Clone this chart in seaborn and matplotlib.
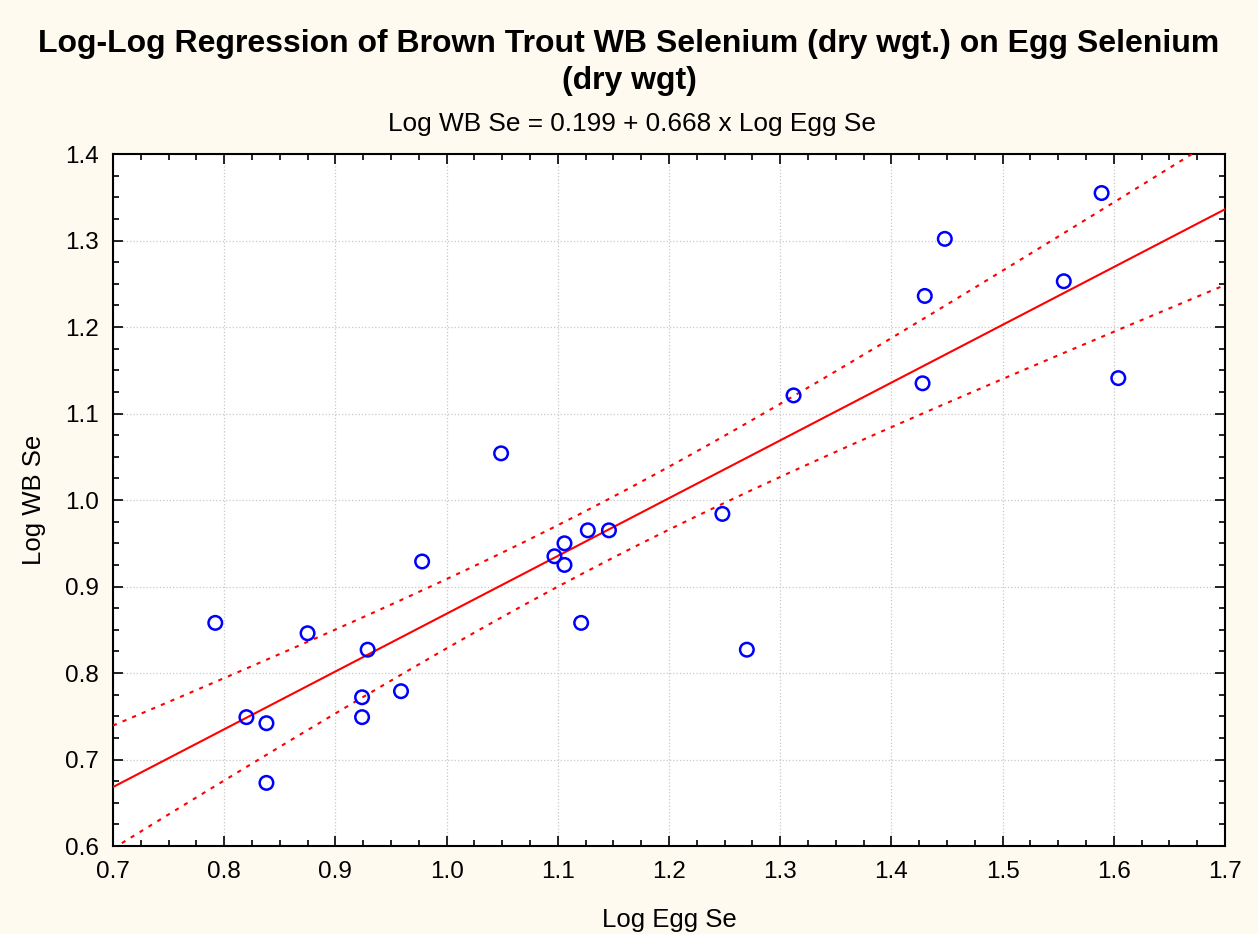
import matplotlib
matplotlib.use("Agg")
import matplotlib.pyplot as plt
import numpy as np
import pandas as pd
import seaborn as sns
from matplotlib.ticker import MultipleLocator

# log egg Se vs log whole-body Se
log_egg = [0.792, 0.820, 0.838, 0.838, 0.875, 0.924, 0.924, 0.929, 0.959, 0.978,
           1.049, 1.097, 1.106, 1.106, 1.121, 1.127, 1.146, 1.248, 1.270, 1.312,
           1.428, 1.430, 1.448, 1.555, 1.589, 1.604]
log_wb = [0.858, 0.749, 0.742, 0.673, 0.846, 0.772, 0.749, 0.827, 0.779, 0.929,
          1.054, 0.935, 0.950, 0.925, 0.858, 0.965, 0.965, 0.984, 0.827, 1.121,
          1.135, 1.236, 1.302, 1.253, 1.355, 1.141]

title = "Log-Log Regression of Brown Trout WB Selenium (dry wgt.) on Egg Selenium\n(dry wgt)"
subtitle = "Log WB Se = 0.199 + 0.668 x Log Egg Se"

df = pd.DataFrame({"egg": log_egg, "wb": log_wb})

sns.set_style("ticks")
plt.rcParams['font.family'] = ['Liberation Sans', 'DejaVu Sans']
plt.rcParams['text.color'] = 'black'
plt.rcParams['axes.labelcolor'] = 'black'
plt.rcParams['xtick.color'] = 'black'
plt.rcParams['ytick.color'] = 'black'

fig = plt.figure(figsize=(12.58, 9.34), dpi=100, facecolor="#FFFAF0")
ax = fig.add_axes([0.0898, 0.0942, 0.8840, 0.7408])
ax.set_facecolor("white")
ax.set_xlim(0.7, 1.7)
ax.set_ylim(0.6, 1.4)

# fitted line + points
sns.regplot(data=df, x="egg", y="wb", ax=ax, ci=None, truncate=False,
            marker="o",
            scatter_kws=dict(s=95, facecolors="none", edgecolors="#0000FF", linewidths=1.8,
                             alpha=1, zorder=4),
            line_kws=dict(color="#FF0000", lw=1.5, zorder=3))

# 95% confidence band of the mean
n = len(df)
b1, b0 = np.polyfit(df.egg, df.wb, 1)
resid = df.wb - (b0 + b1 * df.egg)
s = np.sqrt((resid ** 2).sum() / (n - 2))
xm = df.egg.mean()
sxx = ((df.egg - xm) ** 2).sum()
t = 2.064
xs = np.linspace(0.7, 1.7, 200)
half = t * s * np.sqrt(1 / n + (xs - xm) ** 2 / sxx)
fit = b0 + b1 * xs
ax.plot(xs, fit + half, color="#FF0000", lw=1.5, ls=(0, (2, 3)), zorder=3)
ax.plot(xs, fit - half, color="#FF0000", lw=1.5, ls=(0, (2, 3)), zorder=3)

ax.xaxis.set_major_locator(MultipleLocator(0.1))
ax.xaxis.set_minor_locator(MultipleLocator(0.025))
ax.yaxis.set_major_locator(MultipleLocator(0.1))
ax.yaxis.set_minor_locator(MultipleLocator(0.025))
ax.xaxis.set_major_formatter(lambda v, p: f"{v:.1f}")
ax.yaxis.set_major_formatter(lambda v, p: f"{v:.1f}")
ax.tick_params(which="both", direction="in", top=True, right=True, labelsize=17.5, width=1.2, color="black")
ax.tick_params(which="major", length=7)
ax.tick_params(which="minor", length=4)
ax.tick_params(axis="x", which="major", pad=11)
ax.tick_params(axis="y", which="major", pad=10)
ax.grid(True, which="major", color="#c8c8c8", ls=":", lw=0.9)
for sp in ax.spines.values():
    sp.set_visible(True)
    sp.set_linewidth(1.5)
    sp.set_color("black")

ax.set_xlabel("Log Egg Se", fontsize=18.5, labelpad=18)
ax.set_ylabel("Log WB Se", fontsize=18.5, labelpad=14)

fig.text(0.5, 0.969, title, ha="center", va="top", fontsize=23, fontweight="bold", linespacing=1.3)
fig.text(0.502, 0.8675, subtitle, ha="center", va="center", fontsize=18.9)

fig.savefig("out.png", dpi=100, facecolor=fig.get_facecolor())
